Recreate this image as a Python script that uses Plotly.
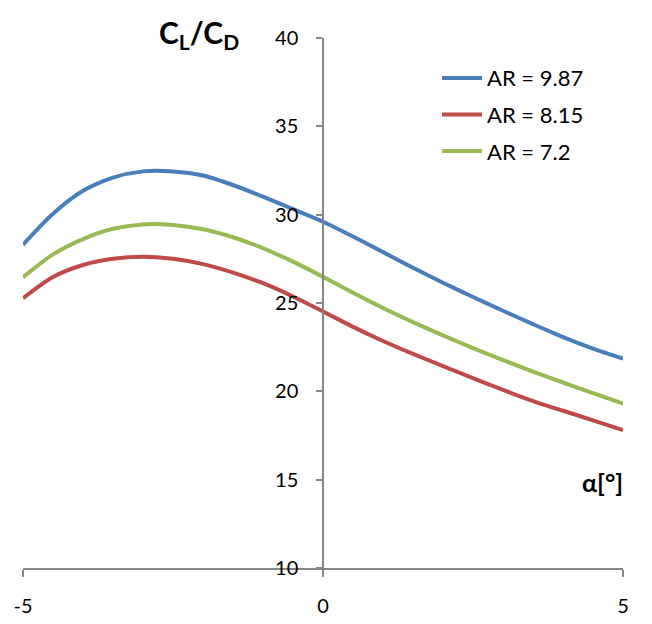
import plotly.graph_objects as go

# angle of attack [deg]
alpha = [-5, -4.5, -4, -3.5, -3, -2.5, -2, -1.5, -1, -0.5, 0,
         0.5, 1, 1.5, 2, 2.5, 3, 3.5, 4, 4.5, 5]

# CL/CD
ar_987 = [28.3, 30.05, 31.35, 32.1, 32.45, 32.45, 32.22, 31.68, 31.02, 30.32, 29.6,
          28.76, 27.88, 27.0, 26.15, 25.34, 24.56, 23.8, 23.07, 22.42, 21.85]
ar_815 = [25.27, 26.47, 27.15, 27.5, 27.62, 27.5, 27.2, 26.72, 26.12, 25.37, 24.52,
          23.65, 22.85, 22.12, 21.43, 20.75, 20.08, 19.45, 18.9, 18.36, 17.8]
ar_72 = [26.45, 27.75, 28.62, 29.2, 29.45, 29.42, 29.17, 28.72, 28.1, 27.34, 26.48,
         25.58, 24.72, 23.92, 23.17, 22.45, 21.77, 21.12, 20.5, 19.9, 19.3]

series = [
    ("AR = 9.87", ar_987, "#4A7EBB"),
    ("AR = 8.15", ar_815, "#BE4B48"),
    ("AR = 7.2", ar_72, "#98B954"),
]

FONT = "Lato"
AXIS_COLOR = "#868686"

fig = go.Figure()
for name, vals, color in series:
    fig.add_trace(go.Scatter(
        x=alpha, y=vals, name=name, mode="lines",
        line=dict(color=color, width=4, shape="spline", smoothing=0.8),
        legendgroup=name,
    ))

# page body has an 8px margin, so the figure is a bit smaller than the window
fig.update_layout(
    width=636, height=608,
    margin=dict(l=15, r=21, t=30, b=48),
    plot_bgcolor="white", paper_bgcolor="white",
    font=dict(family=FONT, size=20, color="black"),
    showlegend=True,
    legend=dict(
        x=0.69, y=0.964, xanchor="left", yanchor="top",
        bgcolor="rgba(0,0,0,0)", tracegroupgap=5,
        font=dict(size=22), itemwidth=40,
    ),
)

fig.update_xaxes(
    range=[-5, 5], tickvals=[-5, 0, 5], ticktext=["-5", "0", "5"],
    showline=True, linecolor=AXIS_COLOR, linewidth=1.5,
    ticks="outside", ticklen=7, tickcolor=AXIS_COLOR, tickwidth=1.5,
    showgrid=False, zeroline=False, automargin=False,
    ticklabelstandoff=12,
)
fig.update_yaxes(
    range=[10, 40], tickvals=[10, 15, 20, 25, 30, 35, 40],
    anchor="free", position=0.5,
    showline=True, linecolor=AXIS_COLOR, linewidth=1.5,
    ticks="outside", ticklen=6, tickcolor=AXIS_COLOR, tickwidth=1.5,
    showgrid=False, zeroline=False, automargin=False,
    ticklabelstandoff=14,
)

# axis titles placed as in the original
fig.add_annotation(
    text="<b>C<sub>L</sub>/C<sub>D</sub></b>", xref="paper", yref="paper",
    x=0.293, y=1.008, showarrow=False, font=dict(size=30),
    xanchor="center", yanchor="middle",
)
fig.add_annotation(
    text="<b>α[°]</b>", xref="paper", yref="paper",
    x=0.965, y=(568 - 482) / 530, showarrow=False, font=dict(size=25),
    xanchor="center", yanchor="middle",
)

fig.write_html("out.html")
